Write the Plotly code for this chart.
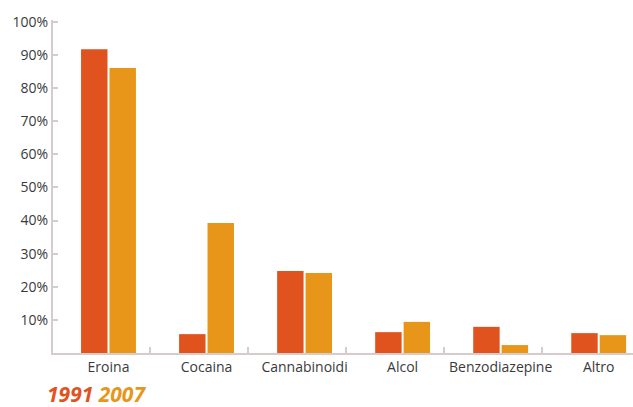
import plotly.graph_objects as go

categories = ["Eroina", "Cocaina", "Cannabinoidi", "Alcol", "Benzodiazepine", "Altro"]
v1991 = [91.8, 5.7, 24.8, 6.3, 7.9, 6.0]
v2007 = [86.1, 39.3, 24.2, 9.4, 2.4, 5.4]
ytick_vals = [10, 20, 30, 40, 50, 60, 70, 80, 90, 100]
ytick_text = [f"{v}%" for v in ytick_vals]

c1991 = "#E0531F"
c2007 = "#E8961A"
axis_col = "#D6CCCC"
txt_col = "#3a3a3a"
font_fam = "Open Sans, Liberation Sans, sans-serif"

idx = list(range(len(categories)))
boundaries = [i + 0.425 for i in idx[:-1]]

fig = go.Figure()
fig.add_bar(x=idx, y=v1991, name="1991", marker=dict(color=c1991, line_width=0))
fig.add_bar(x=idx, y=v2007, name="2007", marker=dict(color=c2007, line_width=0))
# invisible trace for boundary ticks axis
fig.add_scatter(x=[0], y=[0], xaxis="x2", mode="markers", marker=dict(opacity=0), showlegend=False, hoverinfo="skip")

xr = [-0.566, 5.35]
fig.update_layout(
    width=633, height=407,
    margin=dict(l=53, r=0, t=20, b=54),
    paper_bgcolor="white", plot_bgcolor="white",
    barmode="group", bargap=0.42, bargroupgap=0.07,
    showlegend=False,
    font=dict(family=font_fam, size=14, color=txt_col),
    xaxis=dict(range=xr, tickvals=idx, ticktext=categories, ticks="",
               showline=True, linecolor=axis_col, linewidth=2, showgrid=False,
               zeroline=False, tickfont=dict(size=14, color=txt_col), fixedrange=True),
    xaxis2=dict(range=xr, overlaying="x", tickvals=boundaries, ticks="inside", ticklen=6,
                tickcolor=axis_col, tickwidth=2, showticklabels=False, showgrid=False,
                zeroline=False, showline=False, side="bottom", anchor="y"),
    yaxis=dict(range=[0, 100.6], tickvals=ytick_vals, ticktext=ytick_text, ticks="inside",
               ticklen=5, tickcolor=axis_col, tickwidth=1.5, showline=True, linecolor=axis_col,
               linewidth=2, showgrid=False, zeroline=False,
               tickfont=dict(size=14, color=txt_col), fixedrange=True),
)
fig.add_annotation(
    xref="paper", yref="paper", x=-0.012, y=-0.122, xanchor="left", yanchor="middle",
    showarrow=False, borderpad=0,
    text=f"<b><i><span style='color:{c1991}'>1991</span> <span style='color:{c2007}'>2007</span></i></b>",
    font=dict(size=21, family=font_fam),
)
fig.write_html("out.html")
